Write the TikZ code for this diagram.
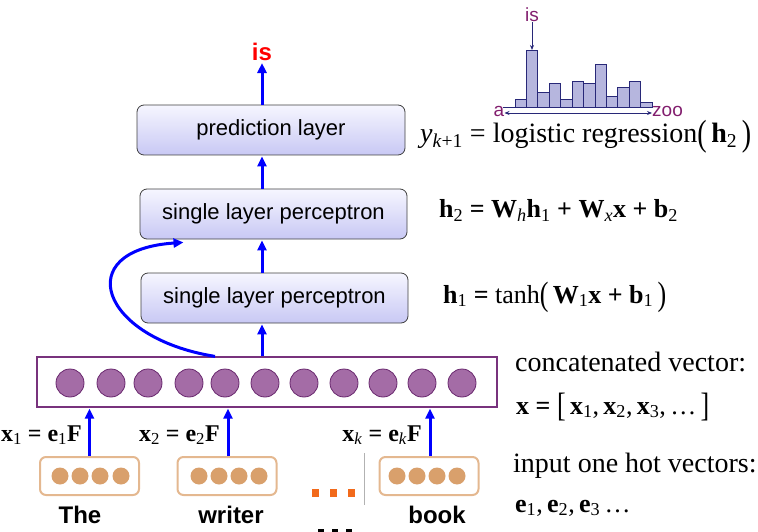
\RequirePackage{fix-cm}
\documentclass[tikz,border=0pt]{standalone}
\usepackage{amsmath}
\usepackage{graphicx}
\usepackage{fontspec}
\setmainfont{Liberation Serif}
\newfontfamily\arial{Liberation Sans}
\usetikzlibrary{arrows.meta}
\definecolor{arrblue}{RGB}{0,0,255}
\definecolor{boxtop}{RGB}{246,246,255}
\definecolor{boxbot}{RGB}{200,200,244}
\definecolor{vecpurple}{RGB}{120,50,125}
\definecolor{cfill}{RGB}{164,108,166}
\definecolor{cdraw}{RGB}{105,40,110}
\definecolor{obdraw}{RGB}{228,184,144}
\definecolor{obfill}{RGB}{217,160,108}
\definecolor{dotorange}{RGB}{242,106,27}
\definecolor{histfill}{RGB}{182,182,222}
\definecolor{histdraw}{RGB}{40,40,120}
\definecolor{histtext}{RGB}{130,30,110}
\newcommand\sbx[1]{$_{\textnormal{#1}}$}
\newcommand\tallc[1]{\raisebox{-0.1em}{\scalebox{1}[1.3]{\mdseries #1}}}
\begin{document}
\begin{tikzpicture}[x=1pt,y=-1pt,
  layerbox/.style={draw=black!75, line width=0.8pt, rounded corners=7pt,
    top color=boxtop, bottom color=boxbot, minimum height=50pt, inner sep=0pt,
    font=\arial\fontsize{22}{22}\selectfont},
  uparrow/.style={draw=arrblue, line width=3pt, -{Triangle[length=10pt,width=9pt]}},
  vcirc/.style={circle, fill=cfill, draw=cdraw, line width=0.8pt, minimum size=28pt, inner sep=0pt},
  onebox/.style={draw=obdraw, line width=2pt, rounded corners=6pt, fill=white,
    minimum height=38pt, minimum width=99pt, inner sep=0pt},
  ocirc/.style={circle, fill=obfill, minimum size=17pt, inner sep=0pt},
  word/.style={font=\arial\bfseries\fontsize{24}{24}\selectfont, anchor=base, inner sep=0pt},
  eqn/.style={anchor=base west, inner sep=0pt, font=\fontsize{28}{27}\selectfont},
  lbl/.style={anchor=base east, inner sep=0pt, font=\bfseries\fontsize{24}{24}\selectfont},
  histlbl/.style={text=histtext, font=\arial\fontsize{19}{19}\selectfont, inner sep=0pt},
]
\useasboundingbox (0,0) rectangle (758,532);

% output word
\node[text=red, font=\arial\bfseries\fontsize{24}{24}\selectfont, inner sep=0pt] (isnode) at (262,52) {is};

% layers
\node[layerbox, minimum width=268pt] (pred) at (271,130) {prediction layer};
\node[layerbox, minimum width=267pt] (sl2) at (273.5,214) {single layer perceptron};
\node[layerbox, minimum width=267pt] (sl1) at (274.5,298) {single layer perceptron};

% concatenated vector
\node[draw=vecpurple, line width=1.2pt, minimum width=460pt, minimum height=50pt, inner sep=0pt] (vec) at (267,382) {};
\foreach \i/\x in {1/70,2/111,3/148,4/189,5/225,6/265,7/304,8/344,9/383,10/422,11/462}
  \node[vcirc] (c\i) at (\x,383) {};

% arrows between layers
\draw[uparrow] (pred.north -| isnode) -- ([yshift=-2pt]isnode.south);
\draw[uparrow] (sl2.north -| isnode) -- ([yshift=-1pt]pred.south -| isnode);
\draw[uparrow] (sl1.north -| isnode) -- ([yshift=-1pt]sl2.south -| isnode);
\draw[uparrow] (vec.north -| isnode) -- ([yshift=-1pt]sl1.south -| isnode);
\coordinate (cstart) at ([xshift=-52pt]vec.north);
\coordinate (cend) at ([xshift=-90pt,yshift=-3pt]sl2.south);
\draw[uparrow] (cstart) .. controls (100,338) and (70,250) .. (cend);

% one hot vectors
\node[onebox] (ob1) at (89.5,476) {};
\node[onebox] (ob2) at (227,476) {};
\node[onebox] (ob3) at (429,476) {};
\foreach \x in {60,80,100,121} \node[ocirc] at (\x,476) {};
\foreach \x in {199,219,239,259} \node[ocirc] at (\x,476) {};
\foreach \x in {397,417,437,457} \node[ocirc] at (\x,476) {};

\draw[uparrow] (ob1.north) -- ([yshift=-1pt]ob1.north |- vec.south);
\draw[uparrow] ([xshift=1pt]ob2.north) -- ([xshift=1pt,yshift=-1pt]ob2.north |- vec.south);
\draw[uparrow] ([xshift=1pt]ob3.north) -- ([xshift=1pt,yshift=-1pt]ob3.north |- vec.south);

\node[lbl] (l1) at (82,441) {x\sbx{1} = e\sbx{1}F};
\node[lbl] (l2) at (220,441) {x\sbx{2} = e\sbx{2}F};
\node[lbl] (l3) at (422,441) {x\sbx{\textit{k}} = e\sbx{\textit{k}}F};

% separator and dots
\draw[black!30, line width=0.8pt] (364,453) -- (364,505);
\foreach \x in {312,330,348} \fill[dotorange] (\x,489) rectangle ++(7,8);
\foreach \x in {318,332,346} \fill[black] (\x,529) rectangle ++(6,6);

% words
\node[word] (w1) at (80,523) {The};
\node[word] (w2) at (231,523) {writer};
\node[word] (w3) at (437,523) {book};

% histogram
\foreach \i/\h in {0/7.7,1/56.7,2/14.3,3/23.3,4/7.7,5/25.7,6/23.3,7/42.7,8/10.7,9/19.3,10/26,11/4.3}
  \draw[histdraw, fill=histfill, line width=0.7pt] (515+11.42*\i,107) rectangle ++(11.42,-\h);
\draw[histdraw, line width=0.9pt] (503,107) -- (652,107);
\node[histlbl, anchor=base] (ha) at (499,117) {a};
\node[histlbl, anchor=base west] (hz) at (652,117) {zoo};
\draw[histdraw, line width=0.9pt, {Stealth[length=5pt,width=4pt]}-{Stealth[length=5pt,width=4pt]}] (ha.east |- 0,113) -- (hz.west |- 0,113);
\node[histlbl, anchor=base] (his) at (532,22) {is};
\draw[histdraw, line width=0.8pt, -{Stealth[length=5pt,width=4pt]}] (his.south) -- (532,50);

% equations
\node[eqn] (e1) at (420,143) {\textit{y}\sbx{\textit{k}+1} = logistic regression\tallc{(}\,\textbf{h}\sbx{2}\,\tallc{)}};
\node[eqn, font=\fontsize{26}{27}\selectfont] (e2) at (439,218) {\bfseries h\sbx{2} = W\sbx{\textit{h}}h\sbx{1} + W\sbx{\textit{x}}x + b\sbx{2}};
\node[eqn, font=\fontsize{26}{27}\selectfont] (e3) at (443,303) {\textbf{h}\sbx{1} \textbf{=} tanh\tallc{(}\,\textbf{W}\sbx{1}\textbf{x} \textbf{+} \textbf{b}\sbx{1}\,\tallc{)}};
\node[eqn] (t1) at (515,371) {concatenated vector:};
\node[eqn, font=\fontsize{26}{27}\selectfont] (t2) at (516,414) {\textbf{x} \textbf{=} \tallc{[}\,\textbf{x}\sbx{1},\,\textbf{x}\sbx{2},\,\textbf{x}\sbx{3},\,\ldots\,\tallc{]}};
\node[eqn] (t3) at (513,472) {input one hot vectors:};
\node[eqn, font=\fontsize{26}{27}\selectfont] (t4) at (515,512) {\textbf{e}\sbx{1},\,\textbf{e}\sbx{2},\,\textbf{e}\sbx{3}\,\ldots};
\end{tikzpicture}
\end{document}
